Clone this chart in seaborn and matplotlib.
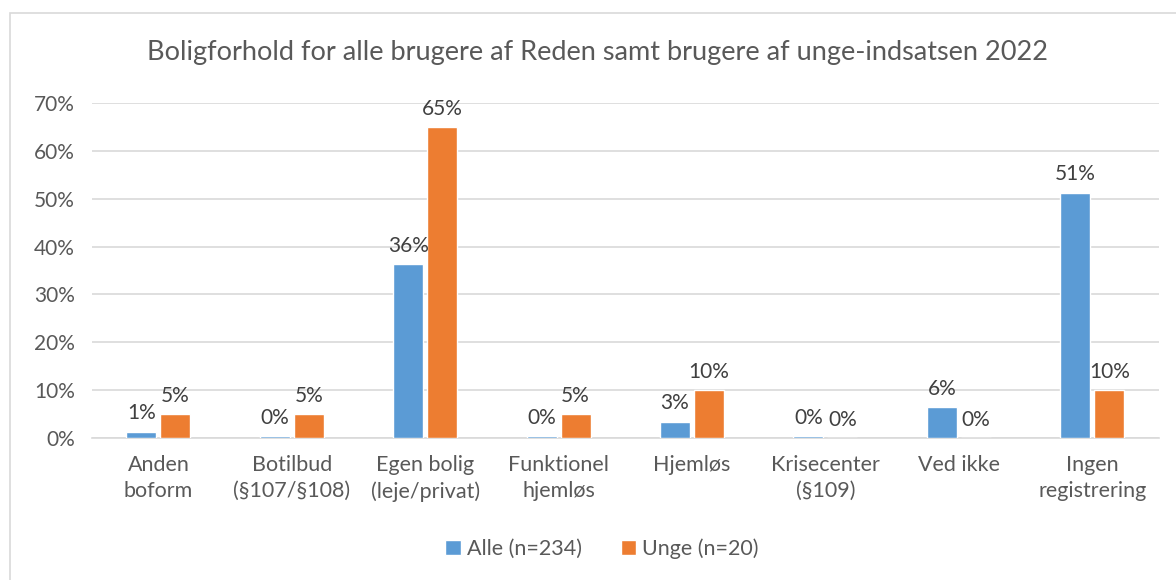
import pandas as pd
import numpy as np
import seaborn as sns
import matplotlib.pyplot as plt
from matplotlib.patches import Rectangle

# Data
categories = ['Anden\nboform', 'Botilbud\n(§107/§108)', 'Egen bolig\n(leje/privat)',
              'Funktionel\nhjemløs', 'Hjemløs', 'Krisecenter\n(§109)', 'Ved ikke',
              'Ingen\nregistrering']
alle = [1.3, 0.4, 36.3, 0.4, 3.4, 0.4, 6.4, 51.3]
unge = [5, 5, 65, 5, 10, 0, 0, 10]
series = ['Alle (n=234)', 'Unge (n=20)']
colors = ['#5b9bd5', '#ed7d31']

df = pd.DataFrame({
    'kategori': categories * 2,
    'andel': alle + unge,
    'gruppe': [series[0]] * len(categories) + [series[1]] * len(categories),
})

sns.set_style('white')
plt.rcParams['font.family'] = ['Lato', 'DejaVu Sans']
txt = '#595959'

fig = plt.figure(figsize=(11.76, 5.8), dpi=100)
ax = fig.add_axes([0.078, 0.2448, 0.9075, 0.5776])

sns.barplot(data=df, x='kategori', y='andel', hue='gruppe', palette=colors,
            width=0.51, gap=0.12, ax=ax, saturation=1, legend=True, zorder=3)

ax.set_ylim(0, 70)
ax.set_yticks(range(0, 71, 10))
ax.set_yticklabels([f'{v}%' for v in range(0, 71, 10)], color=txt, fontsize=15)
ax.tick_params(axis='x', colors=txt, labelsize=15.5, length=0, pad=12)
ax.tick_params(axis='y', length=0, pad=12)
for lab in ax.get_xticklabels():
    lab.set_linespacing(1.4)
ax.set_xlabel('')
ax.set_ylabel('')
ax.grid(axis='y', color='#d9d9d9', linewidth=1.2)
ax.set_axisbelow(True)
for s in ['top', 'right', 'left']:
    ax.spines[s].set_visible(False)
ax.spines['bottom'].set_color('#d9d9d9')
ax.spines['bottom'].set_linewidth(1.2)
ax.spines['bottom'].set_zorder(2)
ax.set_xlim(-0.5, len(categories) - 0.5)

for cont in ax.containers:
    ax.bar_label(cont, labels=[f'{v:.0f}%' for v in cont.datavalues],
                 padding=6, fontsize=15, color='#404040')

handles, labels = ax.get_legend_handles_labels()
ax.get_legend().remove()
fig.legend(handles, labels, loc='center', bbox_to_anchor=(0.512, 0.054), ncol=2,
           frameon=False, fontsize=15.5, handlelength=0.7, handleheight=0.7,
           handletextpad=0.3, columnspacing=1.8, labelcolor=txt)

fig.text(0.508, 0.91,
         'Boligforhold for alle brugere af Reden samt brugere af unge-indsatsen 2022',
         ha='center', va='center', fontsize=19.5, color=txt)

fig.patches.append(Rectangle((10 / 1176, -0.1), 1.1, 1 - 13 / 580 + 0.1,
                             transform=fig.transFigure, fill=False,
                             edgecolor='#d9d9d9', linewidth=1.2))

fig.savefig('out.png', dpi=100, facecolor='white')
